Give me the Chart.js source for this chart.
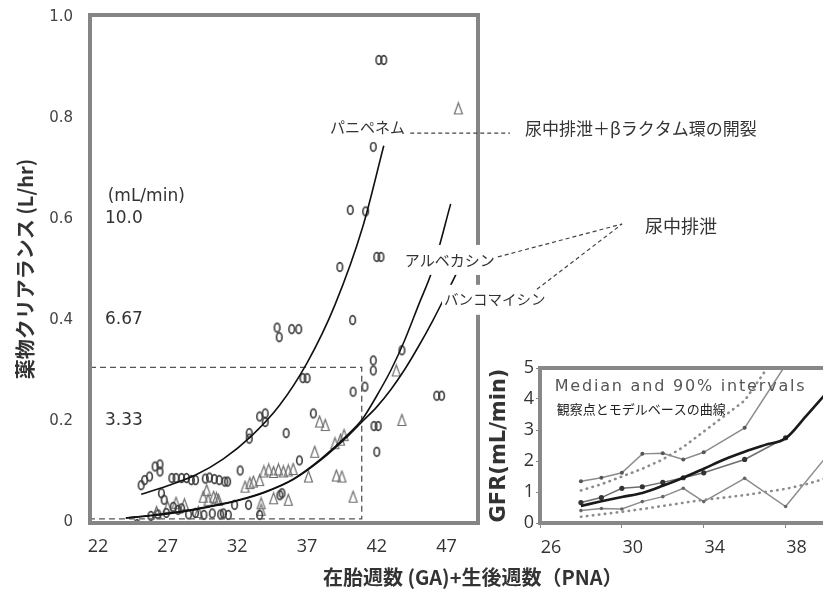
<!DOCTYPE html>
<html lang="ja">
<head>
<meta charset="utf-8">
<script src="https://cdn.jsdelivr.net/npm/chart.js@4.4.1/dist/chart.umd.min.js"></script>
<style>
  html, body { margin: 0; padding: 0; background: #fff; overflow: hidden; }
  #wrap { position: relative; width: 823px; height: 590px; overflow: hidden; }
  #main { position: absolute; left: 0; top: 0; }
  #inset { position: absolute; left: 480px; top: 350px; }
  #xtitle {
    position: absolute; left: 323px; top: 565px; white-space: nowrap;
    font: bold 20px "Noto Sans CJK JP", sans-serif; color: #333; line-height: 24px;
  }
</style>
</head>
<body>
<div id="wrap">
  <canvas id="main" width="823" height="590"></canvas>
  <canvas id="inset" width="371" height="240"></canvas>
  <div id="xtitle">在胎週数 (GA)+生後週数（PNA）</div>
</div>
<script>
// ---- main chart data (x = 週数, y = L/hr) ----
const xTicksMain = [22, 27, 32, 37, 42, 47];
const yTicksMain = [0, 0.2, 0.4, 0.6, 0.8, 1.0];
const gfrLabels = ["10.0", "6.67", "3.33"];
const gfrLabelY = [0.6, 0.4, 0.2];

// 丸 (○) の観察点
const circleData = [
  [42.15, 0.915], [42.5, 0.915], [41.75, 0.743], [40.1, 0.618], [41.2, 0.615],
  [42.0, 0.525], [42.3, 0.525], [39.35, 0.505], [40.27, 0.40],
  [34.85, 0.385], [35.0, 0.366], [35.9, 0.382], [36.4, 0.382],
  [41.75, 0.32], [41.75, 0.30], [43.8, 0.34], [36.7, 0.285], [37.0, 0.285],
  [40.3, 0.258], [41.15, 0.268], [46.3, 0.25], [46.65, 0.25],
  [33.6, 0.209], [34.0, 0.215], [34.0, 0.198], [37.45, 0.215],
  [41.8, 0.19], [42.1, 0.19], [42.0, 0.139], [32.85, 0.176], [32.85, 0.165],
  [35.5, 0.176], [36.45, 0.122],
  [25.1, 0.073], [25.35, 0.083], [25.7, 0.09], [26.1, 0.11], [26.45, 0.114], [26.45, 0.1],
  [26.55, 0.057], [26.75, 0.044], [27.3, 0.087], [27.6, 0.087], [28.0, 0.087], [28.35, 0.087],
  [28.7, 0.083], [29.0, 0.083], [29.7, 0.086], [30.0, 0.088], [30.35, 0.085], [30.7, 0.083],
  [31.1, 0.08], [31.3, 0.08], [32.2, 0.102], [35.05, 0.053], [35.2, 0.057],
  [24.8, -0.004], [25.8, 0.012], [26.3, 0.015], [26.9, 0.018], [27.4, 0.03], [27.75, 0.024],
  [28.0, 0.027], [28.5, 0.015], [29.0, 0.018], [29.6, 0.014], [30.2, 0.017], [30.8, 0.015],
  [31.0, 0.017], [31.35, 0.014], [31.8, 0.034], [32.8, 0.034], [33.6, 0.014]
];

// 三角 (△) の観察点
const triangleData = [
  [47.85, 0.819], [43.4, 0.30], [37.9, 0.199], [38.3, 0.192], [43.8, 0.202],
  [39.0, 0.156], [39.4, 0.163], [39.65, 0.172], [37.55, 0.139], [39.1, 0.092], [39.5, 0.09],
  [40.3, 0.05], [37.1, 0.09], [33.9, 0.1], [34.25, 0.104], [34.6, 0.099], [34.95, 0.104],
  [35.3, 0.1], [35.65, 0.102], [36.0, 0.105], [32.55, 0.07], [32.9, 0.077], [33.15, 0.08],
  [33.6, 0.083], [29.8, 0.063], [30.5, 0.047], [29.55, 0.05], [29.9, 0.044], [30.3, 0.05],
  [30.65, 0.044], [33.7, 0.037], [33.7, 0.024], [34.6, 0.047], [35.65, 0.044],
  [27.0, 0.03], [27.6, 0.038], [28.2, 0.035], [29.2, 0.02], [26.2, 0.02]
];

// モデル曲線
const panipenemCurve = [
  [25.1, 0.055], [27, 0.072], [29, 0.093], [31, 0.125], [33, 0.17], [35, 0.23],
  [37, 0.315], [39, 0.43], [41, 0.585], [42.5, 0.745]
];
const arbekacinCurve = [
  [24.0, 0.008], [26, 0.014], [28, 0.021], [30, 0.031], [32, 0.043], [34, 0.06],
  [36, 0.085], [38, 0.125], [40, 0.175], [41, 0.205], [42, 0.25], [43, 0.30],
  [44, 0.36], [45, 0.43], [46, 0.5], [47.3, 0.63]
];
const vancomycinCurve = [
  [24.0, 0.008], [26, 0.013], [28, 0.02], [30, 0.03], [32, 0.042], [34, 0.059],
  [36, 0.084], [38, 0.123], [40, 0.172], [41, 0.2], [42, 0.228], [43, 0.262],
  [44, 0.302], [45, 0.348], [46, 0.398], [47, 0.452], [48.2, 0.52]
];
const guideLine = [[21.43, 0.306], [40.92, 0.306], [40.92, 0.006], [21.43, 0.006]];

// ---- inset data (GFR mL/min) ----
const xTicksInset = [26, 30, 34, 38];
const obsWeeks = [28, 29, 30, 31, 32, 33, 34, 36, 38];
const obsUpper = [1.35, 1.46, 1.62, 2.23, 2.25, 2.05, 2.28, 3.07, 5.1];
const obsMedian = [0.66, 0.82, 1.12, 1.17, 1.31, 1.46, 1.62, 2.05, 2.75];
const obsLowerWeeks = [28, 29, 30, 31, 32, 33, 34, 36, 38, 40];
const obsLower = [0.40, 0.47, 0.45, 0.69, 0.85, 1.12, 0.69, 1.44, 0.53, 2.15];
const modelWeeks = [28, 29, 30, 31, 32, 33, 34, 35, 36, 37, 38, 39, 40];
const modelMedian = [0.55, 0.7, 0.84, 0.97, 1.2, 1.46, 1.75, 2.05, 2.3, 2.52, 2.73, 3.45, 4.2];
const modelUpper = [1.05, 1.25, 1.5, 1.75, 2.05, 2.45, 2.95, 3.45, 3.95, 4.9, 5.9, 7.0, 8.2];
const modelLower = [0.2, 0.28, 0.36, 0.45, 0.55, 0.65, 0.75, 0.82, 0.9, 1.0, 1.1, 1.25, 1.45];

const toPts = arr => arr.map(p => ({ x: p[0], y: p[1] }));
const zipPts = (xs, ys) => xs.map((x, i) => ({ x, y: ys[i] }));

// 点の形（縦長の○と△）
function makeMark(kind) {
  const c = document.createElement("canvas");
  c.width = 11; c.height = 14;
  const g = c.getContext("2d");
  g.lineWidth = kind === "circle" ? 1.6 : 1.2;
  g.strokeStyle = kind === "circle" ? "#3a3a3a" : "#6e6e6e";
  g.beginPath();
  if (kind === "circle") {
    g.ellipse(5.5, 7, 2.8, 4.4, 0, 0, Math.PI * 2);
  } else {
    g.moveTo(5.5, 1.5); g.lineTo(9.5, 12.5); g.lineTo(1.5, 12.5); g.closePath();
  }
  g.stroke();
  return c;
}

Chart.defaults.animation = false;
Chart.defaults.plugins.legend.display = false;
Chart.defaults.plugins.tooltip.enabled = false;
Chart.defaults.color = "#333";

// ---- main chart ----
const mainDecor = {
  id: "mainDecor",
  afterDatasetsDraw(chart) {
    const { ctx, chartArea: a, scales: { x, y } } = chart;
    ctx.save();
    ctx.strokeStyle = "#858585";
    ctx.lineWidth = 4;
    ctx.strokeRect(a.left, a.top, a.right - a.left, a.bottom - a.top);

    ctx.fillStyle = "#333";
    ctx.textBaseline = "middle";
    ctx.textAlign = "left";
    ctx.font = '17px "DejaVu Sans"';
    ctx.fillText("(mL/min)", x.getPixelForValue(22.7), y.getPixelForValue(0.645));
    gfrLabels.forEach((t, i) => ctx.fillText(t, x.getPixelForValue(22.5), y.getPixelForValue(gfrLabelY[i])));

    // ラベル（白地）
    const label = (text, xv, yv, size) => {
      ctx.font = size + 'px "Noto Sans CJK JP"';
      const px = x.getPixelForValue(xv), py = y.getPixelForValue(yv);
      const w = ctx.measureText(text).width;
      ctx.fillStyle = "#fff";
      ctx.fillRect(px - 2, py - 15, w + 4, 30);
      ctx.fillStyle = "#333";
      ctx.fillText(text, px, py);
    };
    const dash = (pts) => {
      ctx.strokeStyle = "#444";
      ctx.lineWidth = 1.2;
      ctx.setLineDash([4, 3]);
      ctx.beginPath();
      pts.forEach((p, i) => {
        const px = x.getPixelForValue(p[0]), py = y.getPixelForValue(p[1]);
        i ? ctx.lineTo(px, py) : ctx.moveTo(px, py);
      });
      ctx.stroke();
      ctx.setLineDash([]);
    };
    label("パニペネム", 38.64, 0.782, 15);
    dash([[44.4, 0.770], [51.55, 0.770]]);
    label("尿中排泄＋βラクタム環の開裂", 52.63, 0.78, 17);
    label("アルベカシン", 44.0, 0.519, 15);
    label("バンコマイシン", 46.82, 0.44, 14.5);
    dash([[50.69, 0.525], [59.59, 0.59]]);
    dash([[53.49, 0.461], [59.59, 0.59]]);
    label("尿中排泄", 61.24, 0.586, 18);
    ctx.restore();
  }
};

const curveStyle = { showLine: true, pointRadius: 0, borderColor: "#111", borderWidth: 1.6, cubicInterpolationMode: "monotone", fill: false };

new Chart(document.getElementById("main"), {
  type: "scatter",
  data: {
    datasets: [
      { data: toPts(panipenemCurve), ...curveStyle },
      { data: toPts(arbekacinCurve), ...curveStyle },
      { data: toPts(vancomycinCurve), ...curveStyle },
      { data: toPts(guideLine), showLine: true, pointRadius: 0, borderColor: "#555", borderWidth: 1.3, borderDash: [6, 4] },
      { data: toPts(circleData), pointStyle: makeMark("circle"), pointRadius: 5 },
      { data: toPts(triangleData), pointStyle: makeMark("triangle"), pointRadius: 5 }
    ]
  },
  options: {
    responsive: false,
    layout: { padding: { left: 0, top: 15, right: 345, bottom: 0 } },
    scales: {
      x: {
        type: "linear", min: 21.43, max: 49.26,
        afterBuildTicks: s => { s.ticks = xTicksMain.map(v => ({ value: v })); },
        afterFit: s => { s.height = 67; },
        grid: { display: false, drawTicks: false },
        border: { display: false },
        ticks: { font: { family: "Open Sans", size: 18 }, color: "#333", padding: 13, maxRotation: 0 }
      },
      y: {
        min: -0.002, max: 1.004,
        afterBuildTicks: s => { s.ticks = yTicksMain.map(v => ({ value: v })); },
        afterFit: s => { s.width = 90; },
        grid: { display: true, drawOnChartArea: false, drawTicks: true, tickLength: 15, color: "rgba(0,0,0,0)" },
        border: { display: false },
        ticks: {
          font: { family: "DejaVu Sans", size: 15 }, color: "#444", padding: 2,
          callback: v => v === 0 ? "0" : v.toFixed(1)
        },
        title: {
          display: true, text: "薬物クリアランス (L/hr)", color: "#333",
          font: { family: "Noto Sans CJK JP", size: 20, weight: "bold" },
          padding: { top: 13, bottom: 0 }
        }
      }
    }
  },
  plugins: [mainDecor]
});

// ---- inset chart ----
const insetDecor = {
  id: "insetDecor",
  beforeDatasetsDraw(chart) {
    const { ctx, chartArea: a } = chart;
    ctx.save();
    ctx.fillStyle = "#fff";
    ctx.fillRect(a.left, a.top, a.right - a.left, a.bottom - a.top);
    ctx.restore();
  },
  afterDatasetsDraw(chart) {
    const { ctx, chartArea: a, scales: { x, y } } = chart;
    ctx.save();
    ctx.textBaseline = "middle";
    ctx.textAlign = "left";
    ctx.fillStyle = "#555";
    ctx.font = '16px "DejaVu Sans"';
    ctx.letterSpacing = "1.8px";
    ctx.fillText("Median and 90% intervals", x.getPixelForValue(26.72), y.getPixelForValue(4.39));
    ctx.letterSpacing = "0px";
    ctx.fillStyle = "#222";
    ctx.font = '13px "Noto Sans CJK JP"';
    ctx.fillText("観察点とモデルベースの曲線", x.getPixelForValue(26.82), y.getPixelForValue(3.68));
    ctx.strokeStyle = "#888";
    ctx.lineWidth = 4;
    ctx.strokeRect(a.left, a.top, a.right - a.left, a.bottom - a.top);
    ctx.restore();
  }
};

const dotted = { showLine: true, pointRadius: 0, borderColor: "#8c8c8c", borderWidth: 2.6, borderDash: [0.5, 5.5], borderCapStyle: "round" };

new Chart(document.getElementById("inset"), {
  type: "scatter",
  data: {
    datasets: [
      { data: zipPts(modelWeeks, modelMedian), showLine: true, pointRadius: 0, borderColor: "#1a1a1a", borderWidth: 2.6, cubicInterpolationMode: "monotone" },
      { data: zipPts(obsWeeks, obsMedian), showLine: true, borderColor: "#6e6e6e", borderWidth: 1.5, pointRadius: 2.6, pointBackgroundColor: "#333", pointBorderWidth: 0 },
      { data: zipPts(obsWeeks, obsUpper), showLine: true, borderColor: "#8c8c8c", borderWidth: 1.5, pointRadius: 2, pointBackgroundColor: "#555", pointBorderWidth: 0 },
      { data: zipPts(obsLowerWeeks, obsLower), showLine: true, borderColor: "#8c8c8c", borderWidth: 1.5, pointRadius: 1.8, pointBackgroundColor: "#666", pointBorderWidth: 0 },
      { data: zipPts(modelWeeks, modelUpper), ...dotted },
      { data: zipPts(modelWeeks, modelLower), ...dotted }
    ]
  },
  options: {
    responsive: false,
    layout: { padding: { left: 0, top: 18, right: 0, bottom: 0 } },
    scales: {
      x: {
        type: "linear", min: 26, max: 41,
        afterBuildTicks: s => { s.ticks = xTicksInset.map(v => ({ value: v })); },
        afterFit: s => { s.height = 67; },
        grid: { drawOnChartArea: false, drawTicks: true, tickLength: 5, color: "#888" },
        border: { display: false },
        ticks: { labelOffset: 11, padding: 9, font: { family: "Open Sans", size: 18 }, color: "#333", maxRotation: 0 }
      },
      y: {
        min: 0, max: 5,
        afterFit: s => { s.width = 60; },
        grid: { drawOnChartArea: false, drawTicks: true, tickLength: 4, color: "#888" },
        border: { display: false },
        ticks: { stepSize: 1, padding: 2, font: { family: "Open Sans", size: 18 }, color: "#333" },
        title: {
          display: true, text: "GFR(mL/min)", color: "#333",
          font: { family: "DejaVu Sans", size: 21, weight: "bold" },
          padding: { top: 7, bottom: 0 }
        }
      }
    }
  },
  plugins: [insetDecor]
});
</script>
</body>
</html>
